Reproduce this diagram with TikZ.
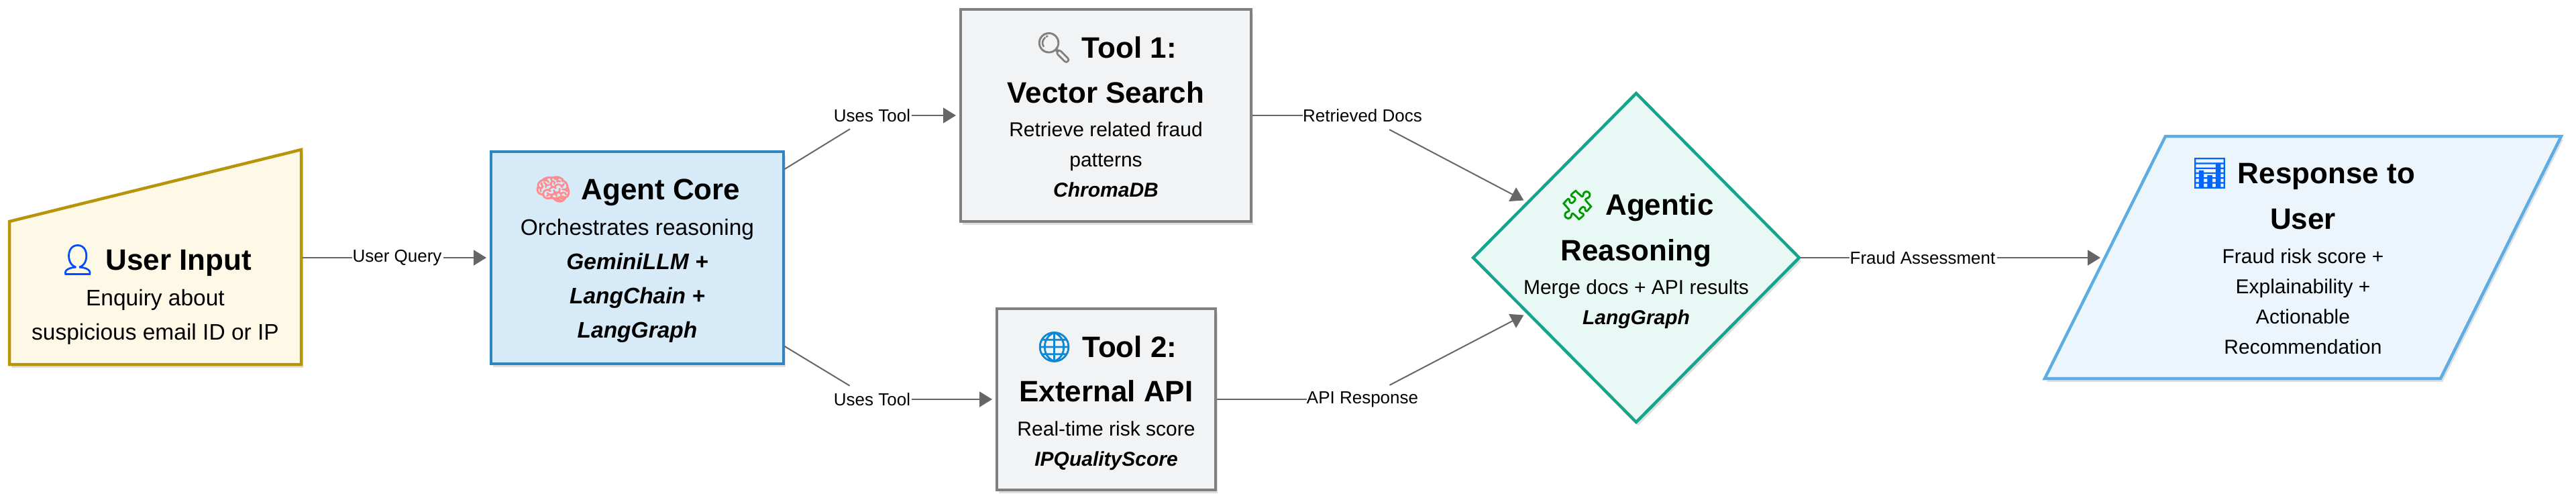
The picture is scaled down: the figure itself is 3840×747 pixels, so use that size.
\documentclass[tikz,border=0pt]{standalone}
\usepackage{fontspec}
\setmainfont{Liberation Sans}
\newfontfamily\emojifont[FakeBold=2.5]{Noto Emoji}
\usetikzlibrary{arrows.meta,shapes.geometric,shadows}
\definecolor{inputfill}{HTML}{FEF9E7}
\definecolor{inputline}{HTML}{B7950B}
\definecolor{corefill}{HTML}{D6EAF8}
\definecolor{coreline}{HTML}{2E86C1}
\definecolor{toolfill}{HTML}{F2F3F4}
\definecolor{toolline}{HTML}{808080}
\definecolor{mergefill}{HTML}{E8F8F5}
\definecolor{mergeline}{HTML}{17A589}
\definecolor{outfill}{HTML}{EBF5FB}
\definecolor{outline}{HTML}{5DADE2}
\definecolor{linkgray}{HTML}{666666}
\newcommand{\ttl}[2]{{\fontsize{44}{44}\selectfont\textcolor{#1}{\emojifont #2}\hspace{14pt}}}
\newcommand{\bt}[1]{{\fontsize{44}{44}\selectfont\bfseries #1}}
\newcommand{\bi}[1]{{\bfseries\itshape #1}}
\AtBeginDocument{\lineskiplimit=-100pt}
\tikzset{
    shadowed/.style={drop shadow={shadow xshift=3pt,shadow yshift=-5pt,opacity=0.25}},
    boxed/.style={line width=4.5pt,inner sep=0pt,outer sep=0pt,shadowed},
    textblock/.style 2 args={align=center,inner sep=0pt,anchor=base,
        font=\fontsize{#1}{#2}\selectfont},
    hidden/.style={inner sep=0pt,outer sep=0pt},
    edgelabel/.style={inner sep=0pt,minimum height=40pt,font=\fontsize{26}{30}\selectfont},
    link/.style={draw=linkgray,line width=2pt,shorten >=7pt,shorten <=2pt,
        -{Triangle[length=19pt,width=23pt]}},
    linkplain/.style={draw=linkgray,line width=2pt,shorten <=2pt}
}
\begin{document}
\begin{tikzpicture}[x=1pt,y=-1pt]
    \useasboundingbox (0,0) rectangle (3840,747);
    % shapes
    \draw[boxed,draw=inputline,fill=inputfill] (14,543)--(14,330)--(449,223)--(449,543)--cycle;
    \node[hidden,minimum width=435pt,minimum height=318pt] (input) at (231.5,384) {};
    \node[boxed,draw=coreline,fill=corefill,minimum width=436pt,minimum height=316pt] (core) at (950,384) {};
    \node[boxed,draw=toolline,fill=toolfill,minimum width=433pt,minimum height=316pt] (tool1) at (1648.5,172) {};
    \node[boxed,draw=toolline,fill=toolfill,minimum width=326pt,minimum height=270pt] (tool2) at (1649,595) {};
    \node[boxed,diamond,shape aspect=1,draw=mergeline,fill=mergefill,minimum width=486pt,minimum height=490pt] (merge) at (2439,384) {};
    \draw[boxed,draw=outline,fill=outfill] (3048,564)--(3228,203)--(3818,203)--(3638,564)--cycle;
    \node[hidden,minimum width=590pt,minimum height=360pt] (output) at (3433,384) {};
    % texts
    \node[textblock={33.5}{51}] (inputtext) at (231.5,506) {\ttl{blue!70!cyan}{👤}\bt{User Input}\\[2pt]Enquiry about\\suspicious email ID or IP};
    \node[textblock={33.5}{51}] (coretext) at (950,503) {\ttl{red!45!white}{🧠}\bt{Agent Core}\\[2pt]Orchestrates reasoning\\\bi{GeminiLLM +}\\\bi{LangChain +}\\\bi{LangGraph}};
    \node[textblock={30}{45}] (tool1text) at (1648.5,293) {\ttl{gray}{🔍}\bt{Tool 1:}\\[22pt]\bt{Vector Search}\\[5pt]Retrieve related fraud\\patterns\\\bi{ChromaDB}};
    \node[textblock={30}{45}] (tool2text) at (1649,694) {\ttl{cyan!70!blue}{🌐}\bt{Tool 2:}\\[21pt]\bt{External API}\\[6pt]Real-time risk score\\\bi{IPQualityScore}};
    \node[textblock={30}{45}] (mergetext) at (2439,483) {\ttl{green!60!black}{🧩}\bt{Agentic}\\[22.5pt]\bt{Reasoning}\\[5pt]Merge docs + API results\\\bi{LangGraph}};
    \node[textblock={30}{45}] (outputtext) at (3433,527) {\ttl{blue!60!cyan}{📊}\bt{Response to}\\[23pt]\bt{User}\\[6pt]Fraud risk score +\\Explainability +\\Actionable\\Recommendation};
    % edge labels
    \node[edgelabel] (querylabel) at (592,384) {User Query};
    \node[edgelabel] (useslabela) at (1300,172) {Uses Tool};
    \node[edgelabel] (useslabelb) at (1300,595) {Uses Tool};
    \node[edgelabel] (docslabel) at (2031,172) {Retrieved Docs};
    \node[edgelabel] (apilabel) at (2031,595) {API Response};
    \node[edgelabel] (fraudlabel) at (2866,384) {Fraud Assessment};
    % connectors
    \draw[linkplain] (input)--(querylabel);
    \draw[link] (querylabel)--(core);
    \draw[linkplain] (core.31.5)--(useslabela);
    \draw[link] (useslabela)--(tool1);
    \draw[linkplain] (core.-31.5)--(useslabelb);
    \draw[link] (useslabelb)--(tool2);
    \draw[linkplain] (tool1)--(docslabel);
    \draw[link] (docslabel)--(merge.153);
    \draw[linkplain] (tool2)--(apilabel);
    \draw[link] (apilabel)--(merge.207);
    \draw[linkplain] (merge)--(fraudlabel);
    \draw[link] (fraudlabel)--(output);
\end{tikzpicture}
\end{document}
